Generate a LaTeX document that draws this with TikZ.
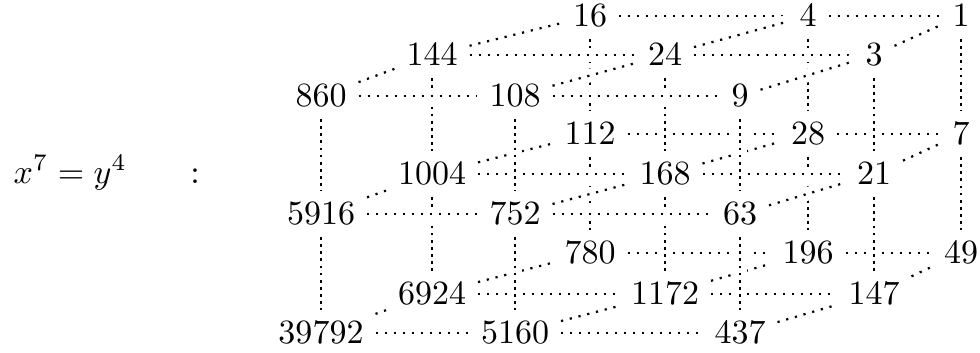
\documentclass[tikz,border=0pt]{standalone}
\usetikzlibrary{backgrounds}

\begin{document}
\begin{tikzpicture}[x=0.2941pt, y=-0.2941pt,
  link/.style={dotted, line width=0.65pt, preaction={draw=white, solid, line width=4pt}},
  vlink/.style={link, line width=0.8pt, dash pattern=on 0.8pt off 1.3pt}]
\useasboundingbox (0,0) rectangle (980,352);
\node[anchor=base west, inner sep=0] (eq) at (13,183) {$x^7 = y^4$};
\node[anchor=base] (colon) at (195,183) {$:$};
% top layer
\node (n860) at (321,96) {$860$};
\node (n108) at (515,96) {$108$};
\node (n9) at (740,96) {$9$};
\node (n144) at (432,55) {$144$};
\node (n24) at (665,55) {$24$};
\node (n3) at (874,55) {$3$};
\node (n16) at (590,16) {$16$};
\node (n4) at (808,16) {$4$};
\node (n1) at (961,16) {$1$};
% middle layer
\node (n5916) at (321,214) {$5916$};
\node (n752) at (515,214) {$752$};
\node (n63) at (740,214) {$63$};
\node (n1004) at (432,174) {$1004$};
\node (n168) at (665,174) {$168$};
\node (n21) at (874,174) {$21$};
\node (n112) at (590,134) {$112$};
\node (n28) at (808,134) {$28$};
\node (n7) at (961,134) {$7$};
% bottom layer
\node (n39792) at (321,333) {$39792$};
\node (n5160) at (515,333) {$5160$};
\node (n437) at (740,333) {$437$};
\node (n6924) at (432,294) {$6924$};
\node (n1172) at (665,294) {$1172$};
\node (n147) at (874,294) {$147$};
\node (n780) at (590,253) {$780$};
\node (n196) at (808,253) {$196$};
\node (n49) at (961,253) {$49$};
\begin{scope}[on background layer]
% back face
\draw[link] (n16) -- (n4) (n4) -- (n1);
\draw[link] (n112) -- (n28) (n28) -- (n7);
\draw[link] (n780) -- (n196) (n196) -- (n49);
\draw[vlink] (n16) -- (n112) (n112) -- (n780);
\draw[vlink] (n4) -- (n28) (n28) -- (n196);
\draw[vlink] (n1) -- (n7) (n7) -- (n49);
\draw[link] (n144) -- (n16) (n24) -- (n4) (n3) -- (n1);
\draw[link] (n1004) -- (n112) (n168) -- (n28) (n21) -- (n7);
\draw[link] (n6924) -- (n780) (n1172) -- (n196) (n147) -- (n49);
% middle face
\draw[link] (n144) -- (n24) (n24) -- (n3);
\draw[link] (n1004) -- (n168) (n168) -- (n21);
\draw[link] (n6924) -- (n1172) (n1172) -- (n147);
\draw[vlink] (n144) -- (n1004) (n1004) -- (n6924);
\draw[vlink] (n24) -- (n168) (n168) -- (n1172);
\draw[vlink] (n3) -- (n21) (n21) -- (n147);
\draw[link] (n860) -- (n144) (n108) -- (n24) (n9) -- (n3);
\draw[link] (n5916) -- (n1004) (n752) -- (n168) (n63) -- (n21);
\draw[link] (n39792) -- (n6924) (n5160) -- (n1172) (n437) -- (n147);
% front face
\draw[link] (n860) -- (n108) (n108) -- (n9);
\draw[link] (n5916) -- (n752) (n752) -- (n63);
\draw[link] (n39792) -- (n5160) (n5160) -- (n437);
\draw[vlink] (n860) -- (n5916) (n5916) -- (n39792);
\draw[vlink] (n108) -- (n752) (n752) -- (n5160);
\draw[vlink] (n9) -- (n63) (n63) -- (n437);
\end{scope}
\end{tikzpicture}
\end{document}
